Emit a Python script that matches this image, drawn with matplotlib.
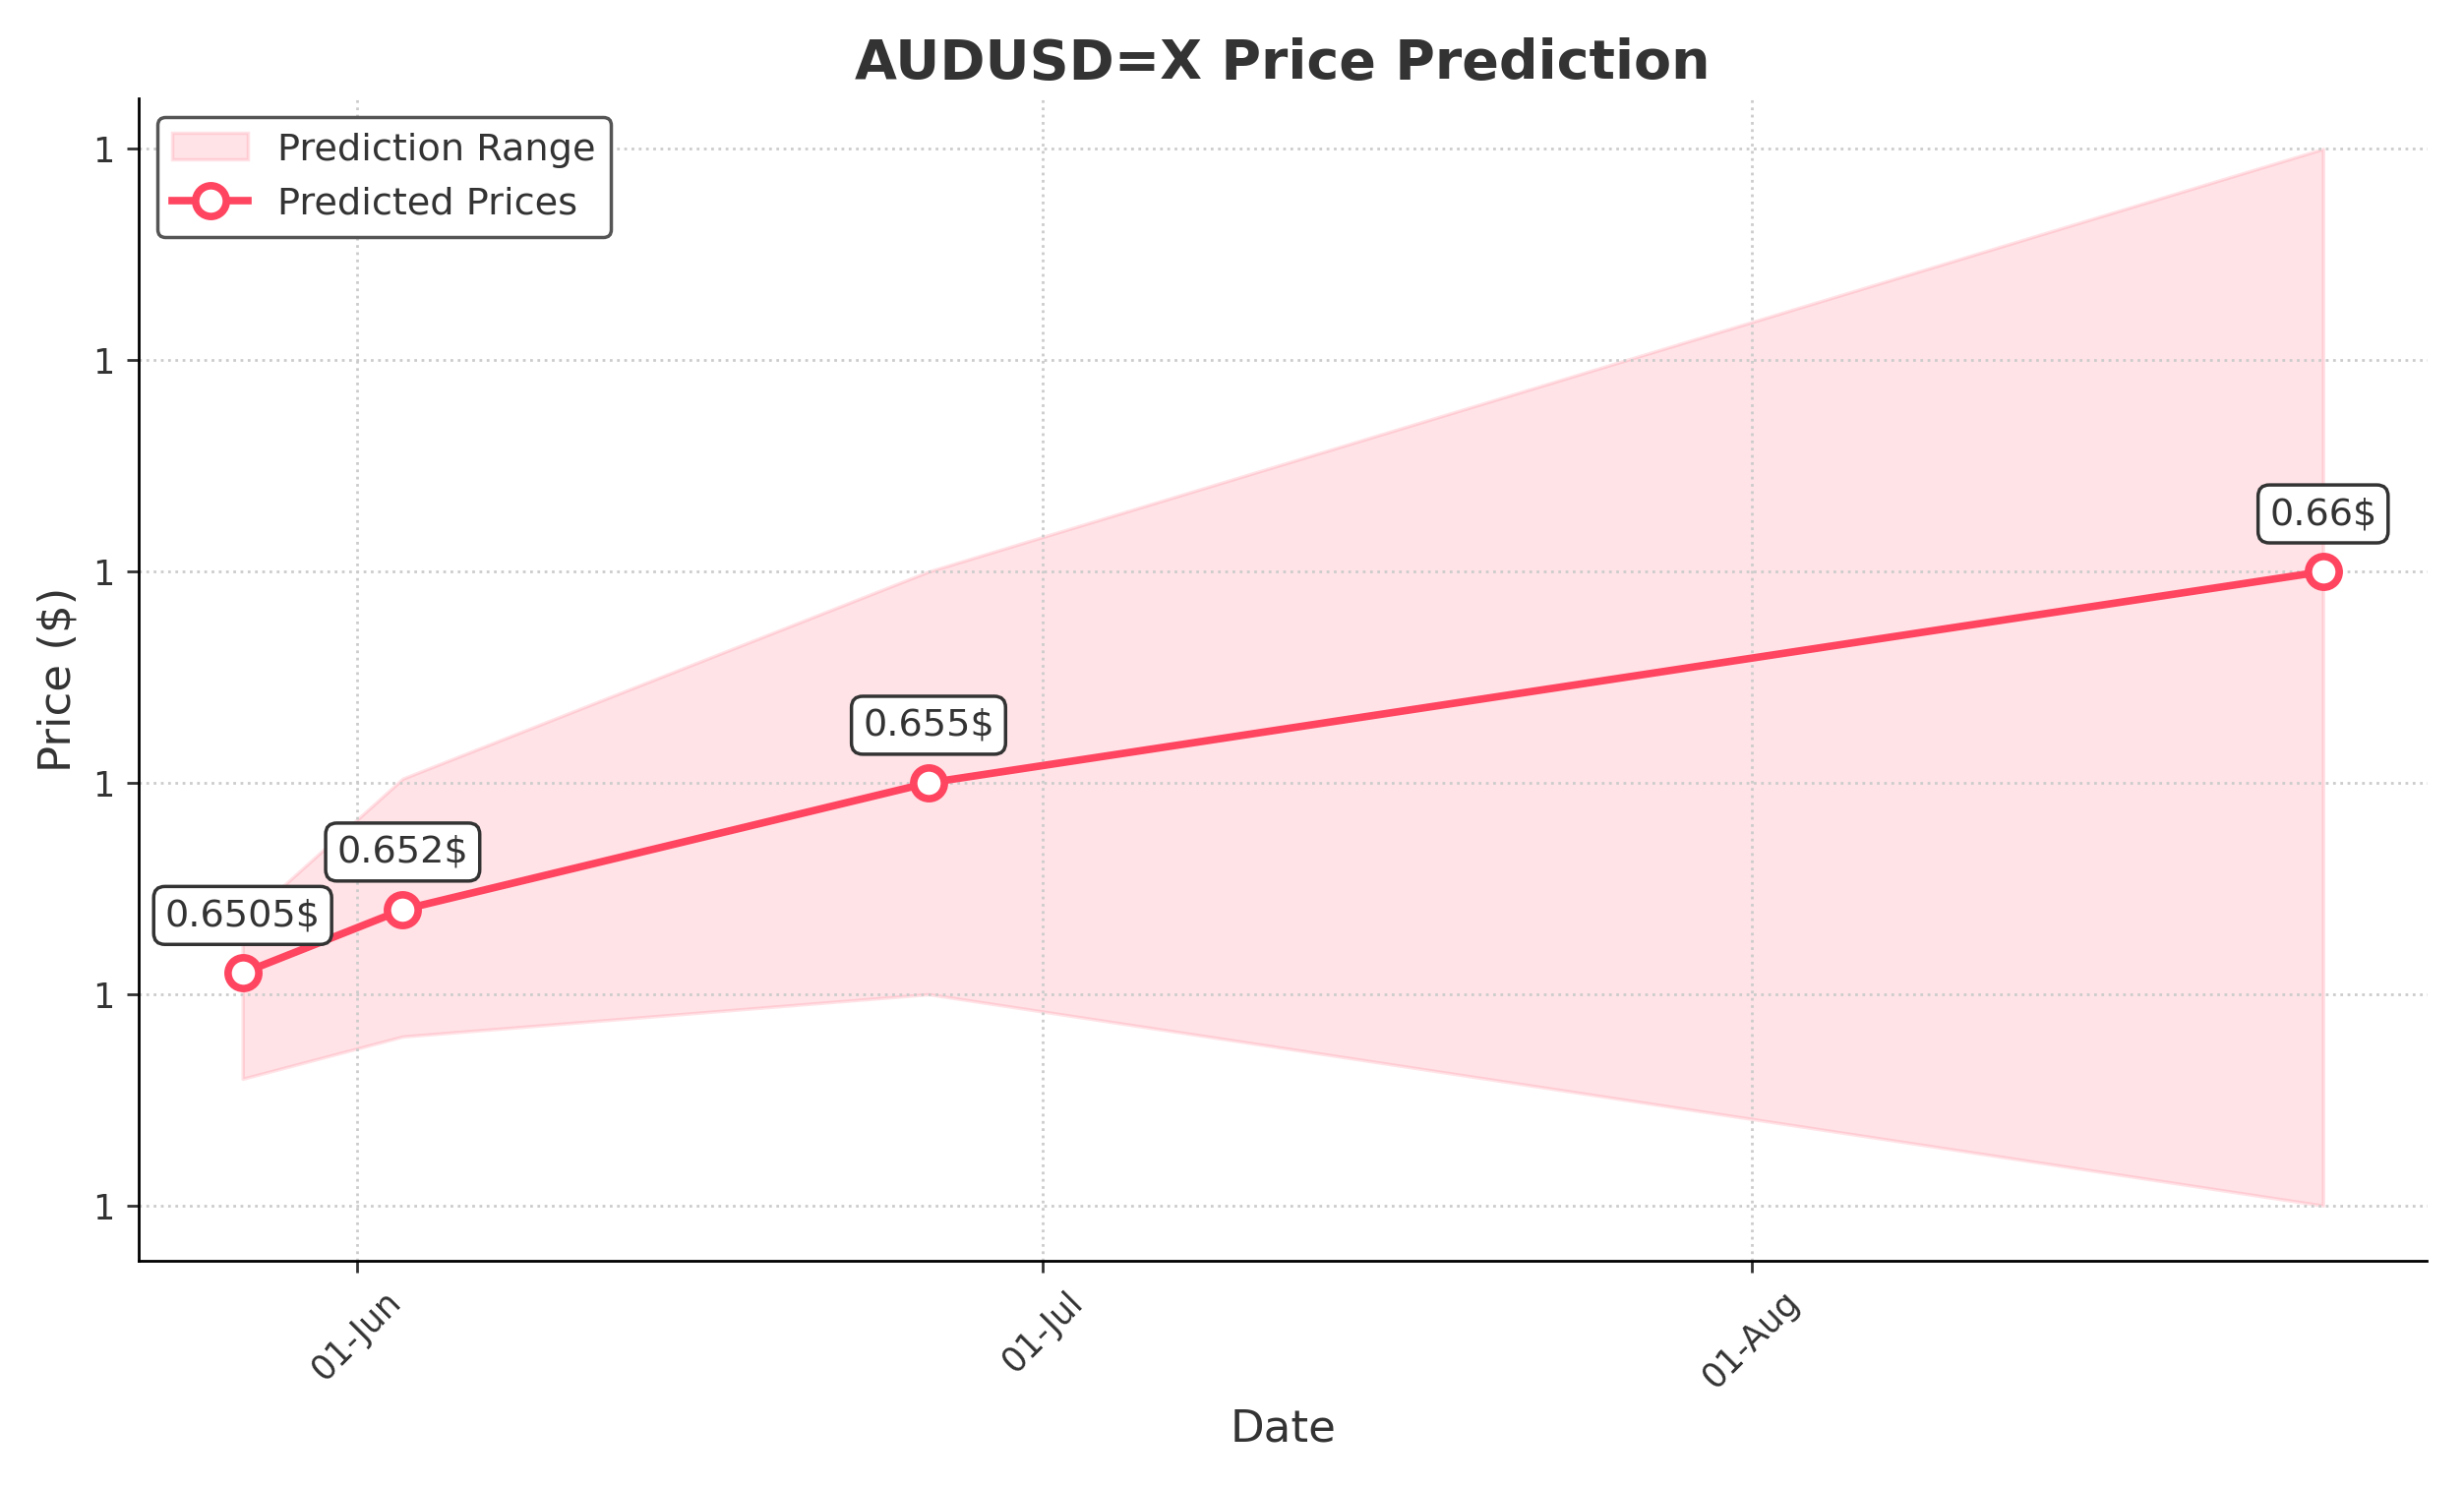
import numpy as np
import pandas as pd
import matplotlib
matplotlib.use("Agg")
import matplotlib.pyplot as plt
import matplotlib.dates as mdates
from matplotlib.ticker import FormatStrFormatter

dates = pd.to_datetime(["2024-05-27", "2024-06-03", "2024-06-26", "2024-08-26"])
predicted = [0.6505, 0.652, 0.655, 0.66]
lower = [0.648, 0.649, 0.65, 0.645]
upper = [0.6517, 0.6551, 0.66, 0.67]
labels = ["0.6505$", "0.652$", "0.655$", "0.66$"]

plt.rcParams.update({'text.color': '#333333', 'axes.labelcolor': '#333333',
                     'xtick.color': '#333333', 'ytick.color': '#333333'})
fig, ax = plt.subplots(figsize=(10.02, 6.05), dpi=250)
red = '#FF4560'
ax.fill_between(dates, lower, upper, color=red, alpha=0.15, label='Prediction Range')
ax.plot(dates, predicted, color=red, lw=2.2, marker='o', ms=9, mfc='white',
        mew=2.2, label='Predicted Prices')
for d, p, t in zip(dates, predicted, labels):
    ax.annotate(t, (d, p), xytext=(0, 14), textcoords='offset points', ha='center',
                fontsize=11, bbox=dict(boxstyle='round,pad=0.3', fc='white', ec='#333333'))

ax.set_title('AUDUSD=X Price Prediction', fontsize=16, fontweight='bold')
ax.set_xlabel('Date', fontsize=13)
ax.set_ylabel('Price ($)', fontsize=13)
ax.yaxis.set_major_formatter(FormatStrFormatter('%.0f'))
ax.set_yticks([0.645, 0.65, 0.655, 0.66, 0.665, 0.67])
ax.set_ylim(0.6437, 0.6712)
ax.xaxis.set_major_locator(mdates.MonthLocator())
ax.xaxis.set_major_formatter(mdates.DateFormatter('%d-%b'))
plt.setp(ax.get_xticklabels(), rotation=45)
ax.grid(True, linestyle=':', color='#cccccc')
ax.spines['top'].set_visible(False)
ax.spines['right'].set_visible(False)
ax.legend(loc='upper left', fontsize=11, edgecolor='#555555', framealpha=1)
fig.tight_layout()
fig.savefig('out.png')
